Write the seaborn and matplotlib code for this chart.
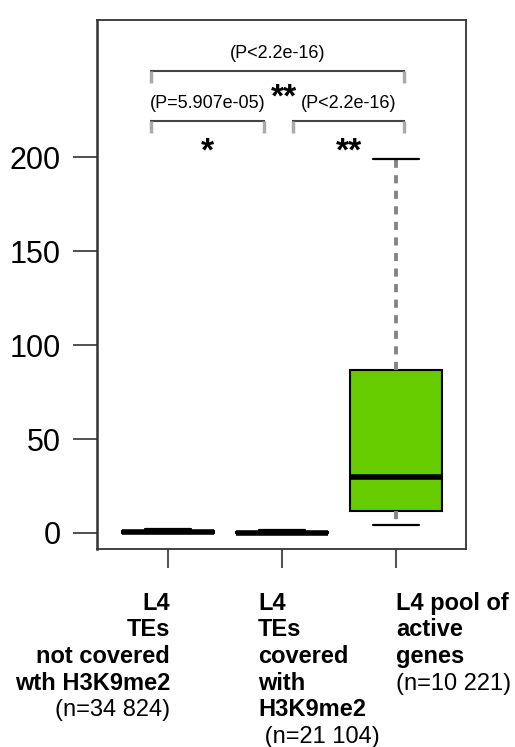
import matplotlib
matplotlib.use("Agg")
from matplotlib import pyplot as plt
import numpy as np
import pandas as pd
import seaborn as sns

# groups and their five-number summaries (min, q1, median, q3, max)
groups = ["not_covered", "covered", "active_genes"]
five_num = {
    "not_covered": [0.0, 0.0, 0.3, 0.9, 2.0],
    "covered": [0.0, 0.0, 0.2, 0.7, 1.5],
    "active_genes": [4.3, 11.7, 29.8, 86.7, 199.0],
}
box_colors = {"not_covered": "black", "covered": "black", "active_genes": "#66cc00"}

# x labels: bold lines + sample size line
label_lines = [
    ["L4", "TEs", "not covered", "wth H3K9me2"],
    ["L4", "TEs", "covered", "with", "H3K9me2"],
    ["L4 pool of", "active", "genes"],
]
n_labels = ["(n=34 824)", " (n=21 104)", "(n=10 221)"]

# pairwise comparisons (group index a, group index b, p-value text, stars)
comparisons = [
    (0, 2, "(P<2.2e-16)", "**"),
    (0, 1, "(P=5.907e-05)", "*"),
    (1, 2, "(P<2.2e-16)", "**"),
]

yticks = [0, 50, 100, 150, 200]

df = pd.DataFrame(
    [(g, v) for g in groups for v in five_num[g]], columns=["group", "value"]
)

sns.set_style("ticks")
plt.rcParams["font.family"] = ["Liberation Sans", "DejaVu Sans"]
plt.rcParams["text.color"] = "black"
plt.rcParams["ytick.labelcolor"] = "black"

fig = plt.figure(figsize=(5.15, 7.47), dpi=100)
ax = fig.add_axes([0.1883, 0.2651, 0.9049 - 0.1883, 0.9732 - 0.2651])

sns.boxplot(
    data=df, x="group", y="value", hue="group", order=groups, hue_order=groups,
    palette=box_colors, saturation=1, legend=False, width=0.81, whis=(0, 100),
    linecolor="black", linewidth=1.5, showfliers=False,
    whiskerprops=dict(color="#858585", linestyle=(0, (2.1, 1.9)), linewidth=2.8),
    capprops=dict(color="black", linewidth=1.6),
    medianprops=dict(color="black", linewidth=4),
    ax=ax,
)

ax.set_xlim(-0.623, 2.614)
ax.set_ylim(-8.5, 272.9)
ax.set_yticks(yticks)
ax.set_yticklabels([str(t) for t in yticks], fontsize=22, color="black")
ax.set_xticks(range(len(groups)))
ax.set_xticklabels([""] * len(groups))
ax.set_xlabel("")
ax.set_ylabel("")
ax.tick_params(axis="y", length=17, width=1.2, pad=9, color="#333333")
ax.tick_params(axis="x", length=14, width=1.5, color="#555555")
for s in ax.spines.values():
    s.set_visible(True)
    s.set_linewidth(1.3)
    s.set_color("#333333")
ax.spines["left"].set_linewidth(1.8)

# brackets with p-values and stars
bracket_y = {(0, 2): 245.7, (0, 1): 219.1, (1, 2): 219.1}
for a, b, ptxt, stars in comparisons:
    y = bracket_y[(a, b)]
    x0 = -0.158 if a == 0 else 1.088
    x1 = 0.851 if b == 1 else 2.079
    ax.plot([x0, x1], [y, y], color="#444444", lw=1.5, solid_capstyle="butt")
    ax.plot([x0 + 0.01, x0 + 0.01], [y, y - 6.3], color="#aaaaaa", lw=2.5, solid_capstyle="butt")
    ax.plot([x1 - 0.01, x1 - 0.01], [y, y - 6.3], color="#aaaaaa", lw=2.5, solid_capstyle="butt")
    xm = (x0 + x1) / 2
    ax.text(xm, y + 9.6, ptxt, ha="center", va="center", fontsize=13)
    if (a, b) == (0, 2):
        ax.text(xm + 0.06, 227.0, stars, ha="center", va="baseline",
                fontsize=24, fontweight="bold")
    else:
        ax.text(xm + 0.0, 198.0, stars, ha="center", va="baseline",
                fontsize=24, fontweight="bold")

# x labels drawn below the axis
label_x = [(0.018, "right"), (-0.21 + 1, "left"), (2.0, "left")]
pitch = 19.1
first = 43.9
xform = ax.get_xaxis_transform()
for i, lines in enumerate(label_lines):
    x, ha = label_x[i]
    for j, line in enumerate(lines):
        ax.annotate(line, xy=(x, 0), xycoords=xform, xytext=(0, -first - j * pitch),
                    textcoords="offset points", ha=ha, va="baseline",
                    fontsize=17, fontweight="bold", annotation_clip=False)
    ax.annotate(n_labels[i], xy=(x, 0), xycoords=xform,
                xytext=(0, -first - len(lines) * pitch),
                textcoords="offset points", ha=ha, va="baseline",
                fontsize=17, annotation_clip=False)

fig.savefig("out.png", dpi=100)
